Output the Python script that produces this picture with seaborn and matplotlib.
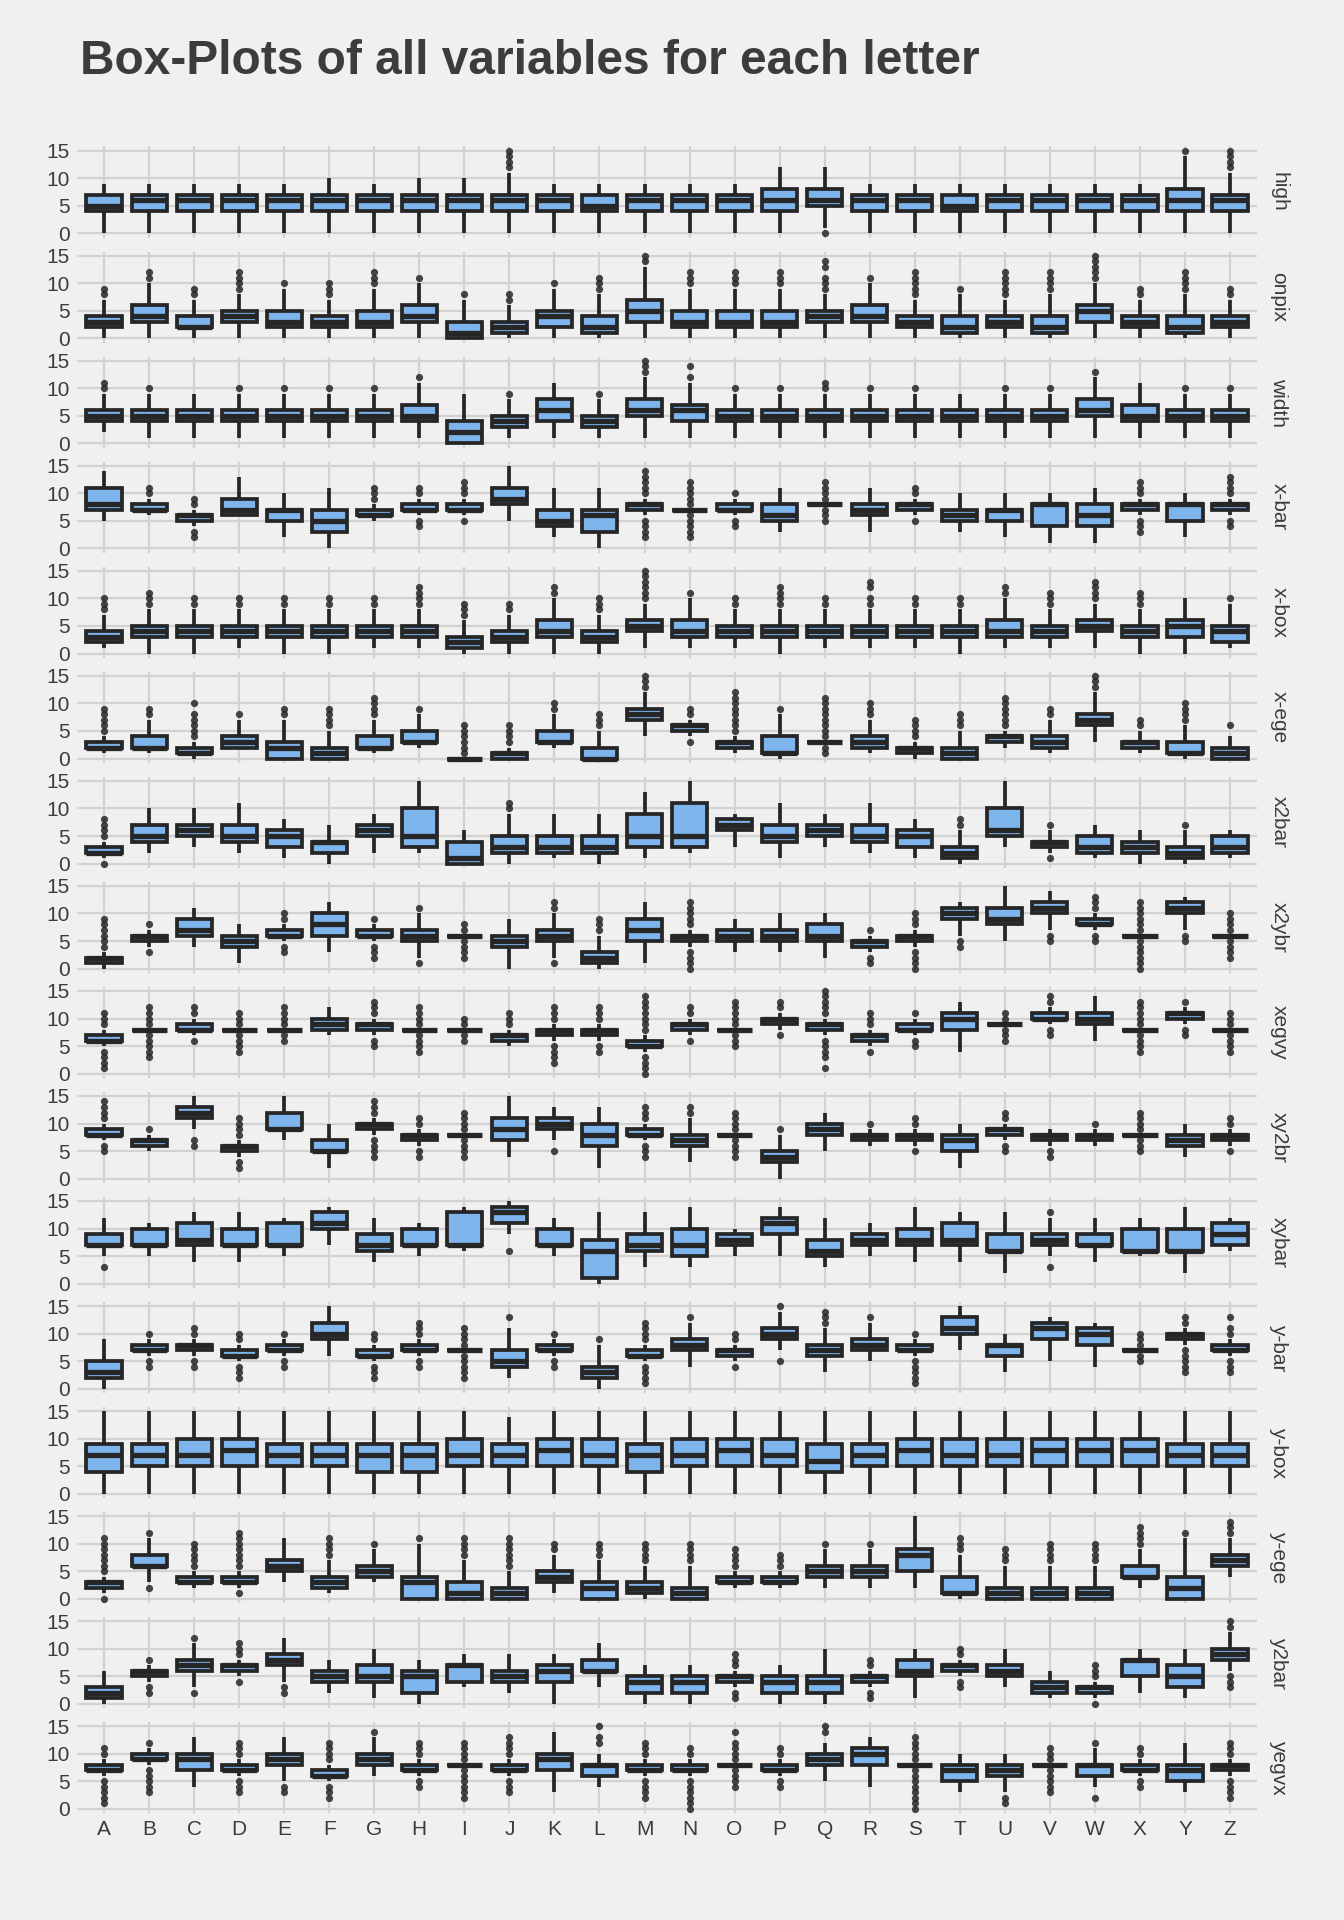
import numpy as np
import pandas as pd
import matplotlib
matplotlib.use("Agg")
import matplotlib.pyplot as plt
import seaborn as sns

letters = list("ABCDEFGHIJKLMNOPQRSTUVWXYZ")
variables = ["high", "onpix", "width", "x-bar", "x-box", "x-ege", "x2bar", "x2ybr",
             "xegvy", "xy2br", "xybar", "y-bar", "y-box", "y-ege", "y2bar", "yegvx"]

# (lower whisker, Q1, median, Q3, upper whisker) per letter A..Z
high_box = [(0,4,5,7,9),(0,4,6,7,9),(0,4,6,7,9),(0,4,6,7,9),(0,4,6,7,9),(0,4,6,7,10),(0,4,6,7,9),
            (0,4,6,7,10),(0,4,6,7,10),(0,4,6,7,11),(0,4,6,7,9),(0,4,5,7,9),(0,4,6,7,9),(0,4,6,7,9),
            (0,4,6,7,9),(0,4,6,8,12),(1,5,6,8,12),(0,4,6,7,9),(0,4,6,7,9),(0,4,5,7,9),(0,4,6,7,9),
            (0,4,6,7,9),(0,4,6,7,9),(0,4,6,7,9),(0,4,6,8,14),(0,4,6,7,11)]
high_out = [[],[],[],[],[],[],[],[],[],[12,13,14,15],[],[],[],[],[],[],[0],[],[],[],[],[],[],[],[15],[12,13,14,15]]

onpix_box = [(0,2,3,4,7),(0,3,4,6,10),(0,2,2,4,7),(0,3,4,5,8),(0,2,3,5,9),(0,2,3,4,7),(0,2,3,5,9),
             (0,3,4,6,10),(0,0,1,3,7),(0,1,2,3,6),(0,2,4,5,9),(0,1,2,4,8),(0,3,5,7,13),(0,2,3,5,9),
             (0,2,3,5,9),(0,2,3,5,9),(0,3,4,5,8),(0,3,4,6,10),(0,2,3,4,7),(0,1,2,4,8),(0,2,3,4,7),
             (0,1,2,4,8),(0,3,5,6,10),(0,2,3,4,7),(0,1,2,4,8),(0,2,3,4,7)]
onpix_out = [[8,9],[11,12],[8,9],[9,10,11,12],[10],[8,9,10],[10,11,12],[11],[8],[7,8],[10],[9,10,11],
             [14,15],[10,11,12],[10,11,12],[10,11,12],[9,10,11,13,14],[11],[8,9,10,11,12],[9],
             [8,9,10,11,12],[9,10,11,12],[11,12,13,14,15],[8,9],[9,10,11,12],[8,9]]

width_box = [(2,4,5,6,9),(1,4,5,6,9),(1,4,5,6,9),(1,4,5,6,9),(1,4,5,6,9),(1,4,5,6,9),(1,4,5,6,9),
             (1,4,5,7,11),(0,0,2,4,9),(1,3,4,5,8),(1,4,6,8,11),(1,3,4,5,8),(1,5,6,8,12),(1,4,6,7,11),
             (1,4,5,6,9),(1,4,5,6,9),(1,4,5,6,9),(1,4,5,6,9),(1,4,5,6,9),(1,4,5,6,9),(1,4,5,6,9),
             (1,4,5,6,9),(1,5,6,8,12),(1,4,5,7,11),(1,4,5,6,9),(1,4,5,6,9)]
width_out = [[10,11],[10],[],[10],[10],[10],[10],[12],[],[9],[],[9],[13,14,15],[12,14],[10],[10],
             [10,11],[10],[10],[],[10],[10],[13],[],[10],[10]]

x_bar_box = [(5,7,8,11,14),(6,7,7,8,9),(4,5,6,6,7),(6,6,7,9,13),(2,5,7,7,10),(0,3,5,7,11),(5,6,6,7,8),
             (6,7,7,8,9),(6,7,7,8,9),(5,8,9,11,15),(2,4,5,7,11),(0,3,6,7,11),(6,7,8,8,9),(7,7,7,7,7),
             (6,7,7,8,9),(3,5,6,8,11),(8,8,8,8,8),(3,6,7,8,11),(6,7,8,8,9),(3,5,6,7,10),(2,5,7,7,10),
             (1,4,8,8,10),(1,4,6,8,11),(6,7,8,8,9),(2,5,8,8,10),(6,7,8,8,9)]
x_bar_out = [[],[10,11],[2,3,8,9],[],[],[],[9,10,11],[4,5,10,11],[5,10,11,12],[],[],[],
             [2,3,4,5,10,11,12,13,14],[2,3,4,5,6,8,9,10,11,12],[4,5,10],[],[5,6,7,9,10,11,12],[],
             [5,10,11],[],[],[],[],[3,4,5,10,11,12],[],[4,5,10,11,12,13]]

x_box_box = [(1,2,3,4,7),(0,3,4,5,8),(0,3,4,5,8),(1,3,4,5,8),(0,3,4,5,8),(0,3,4,5,8),(1,3,4,5,8),
             (1,3,4,5,8),(0,1,2,3,6),(0,2,3,4,7),(0,3,4,6,10),(0,2,3,4,7),(1,4,5,6,9),(1,3,4,6,10),
             (1,3,4,5,8),(0,3,4,5,8),(1,3,4,5,8),(1,3,4,5,8),(1,3,4,5,8),(0,3,4,5,8),(1,3,4,6,10),
             (1,3,4,5,8),(1,4,5,6,9),(0,3,4,5,8),(0,3,5,6,10),(1,2,4,5,9)]
x_box_out = [[8,9,10],[9,10,11],[9,10],[9,10],[9,10],[9,10],[9,10],[9,10,11,12],[7,8,9],[8,9],[11,12],
             [8,9,10],[10,11,12,13,14,15],[11],[9,10],[9,10,11,12],[9,10],[9,10,12,13],[9,10],[9,10],
             [11,12],[9,10,11],[10,11,12,13],[9,10,11],[],[10]]

x_ege_box = [(1,2,2,3,4),(1,2,2,4,7),(0,1,1,2,3),(2,2,3,4,7),(0,0,2,3,7),(0,0,1,2,5),(1,2,2,4,7),
             (2,3,3,5,8),(0,0,0,0,0),(0,0,1,1,2),(2,3,3,5,8),(0,0,0,2,5),(4,7,8,9,12),(4,5,6,6,7),
             (1,2,3,3,4),(0,1,1,4,8),(3,3,3,3,3),(1,2,3,4,7),(0,1,2,2,3),(0,0,1,2,5),(2,3,4,4,5),
             (1,2,3,4,7),(3,6,7,8,12),(1,2,3,3,5),(0,1,1,3,6),(0,0,1,2,4)]
x_ege_out = [[5,6,7,8,9],[8,9],[4,5,6,7,8,10],[8],[8,9],[6,7,8,9],[8,9,10,11],[9],[1,2,3,4,5,6],
             [3,4,5,6],[9,10],[6,7,8],[13,14,15],[3,8,9],[5,6,7,8,9,10,11,12],[9],
             [1,2,4,5,6,7,8,9,10,11],[8,9,10],[4,5,6,7],[6,7,8],[6,7,8,9,10,11],[8,9],[13,14,15],
             [6,7],[7,8,9,10],[6]]

x2bar_box = [(1,2,2,3,4),(2,4,5,7,10),(3,5,6,7,10),(2,4,5,7,11),(1,3,5,6,8),(0,2,4,4,7),(2,5,6,7,9),
             (2,3,5,10,15),(0,0,1,4,6),(0,2,3,5,9),(1,2,3,5,9),(0,2,3,5,9),(1,3,5,9,13),(2,3,5,11,15),
             (3,6,7,8,9),(1,4,5,7,11),(3,5,6,7,9),(2,4,5,7,11),(1,3,5,6,8),(0,1,2,3,6),(3,5,6,10,15),
             (2,3,4,4,6),(1,2,3,5,7),(0,2,3,4,6),(0,1,2,3,6),(1,2,3,5,6)]
x2bar_out = [[0,5,6,7,8],[],[],[],[],[],[],[],[],[10,11],[],[],[],[],[],[],[],[],[],[7,8],[],[1,7],
             [],[],[7],[]]

x2ybr_box = [(0,1,2,2,3),(4,5,6,6,7),(4,6,7,9,11),(1,4,5,6,8),(5,6,6,7,8),(3,6,8,10,12),(5,6,6,7,8),
             (2,5,6,7,10),(6,6,6,6,6),(0,4,5,6,9),(2,5,6,7,10),(0,1,2,3,6),(1,5,7,9,12),(4,5,6,6,7),
             (3,5,6,7,9),(3,5,6,7,10),(2,5,6,8,10),(3,4,5,5,6),(4,5,6,6,7),(6,9,10,11,12),
             (5,8,9,11,15),(7,10,11,12,14),(7,8,8,9,10),(6,6,6,6,6),(7,10,11,12,13),(6,6,6,6,6)]
x2ybr_out = [[4,5,6,7,8,9],[3,8],[],[],[3,4,9,10],[],[2,3,4,9],[1,11],[2,3,4,5,7,8],[],[1,11,12],
             [7,8,9],[],[0,1,2,3,8,9,10,11,12],[],[],[],[1,2,7],[0,1,2,3,8,9,10],[4,5],[],[5,6],
             [5,6,11,12,13],[0,1,2,3,4,5,7,8,9,10,11,12],[5,6],[2,3,4,5,7,8,9,10]]

xegvy_box = [(5,6,6,7,8),(8,8,8,8,8),(7,8,8,9,10),(8,8,8,8,8),(8,8,8,8,8),(7,8,9,10,12),(7,8,9,9,10),
             (8,8,8,8,8),(8,8,8,8,8),(5,6,7,7,8),(6,7,8,8,9),(6,7,8,8,9),(4,5,5,6,7),(7,8,9,9,10),
             (8,8,8,8,8),(8,9,10,10,11),(7,8,9,9,10),(5,6,7,7,8),(7,8,8,9,10),(4,8,10,11,13),
             (9,9,9,9,9),(9,10,10,11,12),(6,9,10,11,14),(8,8,8,8,8),(9,10,11,11,12),(8,8,8,8,8)]
xegvy_out = [[1,2,3,4,9,10,11],[3,4,5,6,7,9,10,11,12],[6,11,12],[4,5,6,7,9,10,11],[6,7,9,10,11,12],
             [],[5,6,11,12,13],[4,5,6,7,9,10,11,12],[6,7,9,10],[9,10,11],[2,3,4,5,10,11,12],
             [4,5,10,11,12],[0,1,2,3,8,9,10,11,12,13,14],[6,11,12],[5,6,7,9,10,11,12,13],[7,12,13],
             [1,3,4,5,6,11,12,13,14,15],[4,9,10,11],[5,6,11],[],[6,7,8,10,11],[7,8,13,14],[],
             [4,5,6,7,9,10,11,12,13],[7,8,13],[4,5,6,7,9,10,11]]

xy2br_box = [(7,8,8,9,10),(5,6,7,7,8),(9,11,12,13,15),(4,5,6,6,7),(7,9,9,12,15),(2,5,5,7,10),
             (8,9,10,10,11),(6,7,8,8,9),(8,8,8,8,8),(4,7,9,11,15),(7,9,10,11,13),(2,6,8,10,13),
             (7,8,8,9,10),(3,6,7,8,11),(8,8,8,8,8),(0,3,4,5,8),(5,8,9,10,12),(6,7,8,8,9),(6,7,8,8,9),
             (2,5,7,8,10),(7,8,9,9,10),(6,7,8,8,9),(6,7,8,8,9),(8,8,8,8,8),(4,6,7,8,10),(6,7,8,8,9)]
xy2br_out = [[5,6,11,12,13,14],[9],[6,7],[2,3,8,9,10,11],[],[],[4,5,6,7,12,13,14],[4,5,10,11],
             [4,5,6,7,9,10,11,12],[],[5],[],[4,5,6,11,12,13],[12,13],[4,5,6,7,9,10,11,12],[9],[],
             [10],[5,10,11],[],[5,6,11,12],[4,5],[10],[5,6,7,9,10,11,12],[],[5,10,11]]

xybar_box = [(5,7,7,9,12),(5,7,7,10,11),(4,7,8,11,13),(4,7,7,10,13),(5,7,7,11,12),(7,10,11,13,14),
             (4,6,7,9,12),(5,7,7,10,11),(6,7,7,13,14),(9,11,13,14,15),(5,7,7,10,12),(0,1,6,8,13),
             (3,6,7,9,13),(3,5,7,10,14),(5,7,8,9,10),(5,9,11,12,14),(3,5,6,8,12),(5,7,8,9,11),
             (4,7,8,10,14),(4,7,8,11,13),(2,6,6,9,13),(5,7,8,9,12),(4,7,7,9,12),(5,6,6,10,12),
             (2,6,6,10,14),(6,7,9,11,12)]
xybar_out = [[3],[],[],[],[],[],[],[],[],[6],[],[],[],[],[],[],[],[],[],[],[],[3,13],[],[],[],[]]

y_bar_box = [(0,2,3,5,9),(6,7,7,8,9),(6,7,8,8,9),(5,6,6,7,8),(6,7,7,8,9),(6,9,10,12,15),(5,6,6,7,8),
             (6,7,7,8,9),(7,7,7,7,7),(2,4,5,7,11),(6,7,7,8,9),(0,2,3,4,8),(5,6,6,7,8),(4,7,8,9,12),
             (5,6,7,7,8),(7,9,10,11,14),(3,6,7,8,11),(5,7,8,9,12),(6,7,7,8,9),(7,10,11,13,15),
             (3,6,8,8,10),(5,9,11,12,13),(4,8,10,11,12),(7,7,7,7,7),(8,9,10,10,11),(6,7,7,8,9)]
y_bar_out = [[],[4,5,10],[4,5,10,11],[2,3,4,9,10],[4,5,10],[],[2,3,4,9,10],[4,5,10,11,12],
             [2,3,4,5,6,8,9,10,11],[13],[4,5,10],[9],[1,2,3,4,9,10,11,12],[13],[4,9,10],[5,15],
             [12,13,14],[13],[1,2,3,4,5,10],[],[],[],[],[5,6,8,9,10],[3,4,5,6,7,12,13],[3,4,5,10,11,13]]

y_box_box = [(0,4,7,9,15),(0,5,7,9,15),(0,5,7,10,15),(0,5,8,10,15),(0,5,7,9,15),(0,5,7,9,15),
             (0,4,7,9,15),(0,4,7,9,15),(0,5,7,10,15),(0,5,7,9,14),(0,5,8,10,15),(0,5,7,10,15),
             (0,4,7,9,15),(0,5,7,10,15),(0,5,8,10,15),(0,5,7,10,15),(0,4,6,9,15),(0,5,7,9,15),
             (0,5,8,10,15),(0,5,7,10,15),(0,5,7,10,15),(0,5,8,10,15),(0,5,8,10,15),(0,5,8,10,15),
             (0,5,7,9,15),(0,5,7,9,15)]
y_box_out = [[] for _ in range(26)]

y_ege_box = [(1,2,3,3,4),(3,6,6,8,11),(2,3,3,4,5),(2,3,3,4,5),(3,5,6,7,11),(1,2,3,4,7),(3,4,5,6,9),
             (0,0,3,4,10),(0,0,1,3,7),(0,0,1,2,5),(1,3,4,5,8),(0,0,2,3,7),(0,1,2,3,6),(0,0,1,2,6),
             (2,3,3,4,5),(2,3,3,4,5),(2,4,5,6,9),(2,4,5,6,9),(2,5,8,9,15),(0,1,1,4,8),(0,0,1,2,6),
             (0,0,1,2,6),(0,0,1,2,6),(2,4,4,6,9),(0,0,2,4,11),(4,6,7,8,11)]
y_ege_out = [[0,5,6,7,8,9,10,11],[2,12],[6,7,8,9,10],[1,6,7,8,9,10,11,12],[],[8,9,10,11],[10],[11],
             [8,9,10,11],[6,7,8,9,10,11],[9,10],[8,9,10],[7,8,9,10],[7,8,9,10],[6,7,8,9],[6,7,8],
             [10],[10],[],[9,10,11],[7,8,9],[7,8,9,10],[7,8,9,10],[10,11,12,13],[12],[12,13,14]]

y2bar_box = [(0,1,2,3,6),(4,5,6,6,7),(3,6,7,8,11),(5,6,7,7,8),(4,7,8,9,12),(2,4,5,6,8),(1,4,5,7,10),
             (0,2,5,6,8),(3,4,7,7,9),(2,4,5,6,9),(0,4,6,7,9),(3,6,6,8,11),(0,2,4,5,7),(0,2,4,5,7),
             (3,4,5,5,6),(0,2,4,5,7),(0,2,4,5,10),(3,4,5,5,6),(1,5,6,8,10),(5,6,7,7,8),(3,5,6,7,10),
             (1,2,3,4,6),(1,2,3,3,4),(2,5,8,8,10),(1,3,5,7,10),(6,8,9,10,13)]
y2bar_out = [[],[2,3,8],[2,12],[4,9,10,11],[2,3],[],[],[],[],[],[],[],[],[],[1,2,7,8,9],[],[],
             [1,2,7,8],[],[3,4,9,10],[],[],[0,5,6,7],[],[],[3,4,5,14,15]]

yegvx_box = [(6,7,7,8,9),(8,9,9,10,11),(4,7,9,10,13),(6,7,7,8,9),(5,8,9,10,13),(5,6,6,7,8),
             (6,8,9,10,13),(6,7,7,8,9),(8,8,8,8,8),(6,7,7,8,9),(3,7,9,10,14),(4,6,8,8,10),
             (6,7,7,8,9),(6,7,7,8,9),(8,8,8,8,8),(6,7,7,8,9),(5,8,9,10,12),(4,8,10,11,13),
             (8,8,8,8,8),(3,5,7,8,10),(3,6,7,8,10),(8,8,8,8,8),(4,6,8,8,11),(6,7,7,8,9),
             (3,5,7,8,12),(6,7,8,8,9)]
yegvx_out = [[1,2,3,4,5,10,11],[3,4,5,6,7,12],[],[3,4,5,10,11,12],[3,4],[2,3,4,9,10,11,12],[14],
             [4,5,10,11,12],[2,3,4,5,6,7,9,10,11,12],[3,4,5,10,11,12,13],[],[12,13,15],
             [2,3,4,5,10,11,12],[0,1,2,3,4,5,10,11],[4,5,6,7,9,10,11,12,14],[4,5,10,11],[14,15],[],
             [0,1,2,3,4,5,6,7,9,10,11,12,13],[],[1,2],[3,4,5,6,7,9,10,11],[2,12],[4,5,10,11],[],
             [2,3,4,5,10,11,12]]

box_stats = {"high": high_box, "onpix": onpix_box, "width": width_box, "x-bar": x_bar_box,
             "x-box": x_box_box, "x-ege": x_ege_box, "x2bar": x2bar_box, "x2ybr": x2ybr_box,
             "xegvy": xegvy_box, "xy2br": xy2br_box, "xybar": xybar_box, "y-bar": y_bar_box,
             "y-box": y_box_box, "y-ege": y_ege_box, "y2bar": y2bar_box, "yegvx": yegvx_box}
outliers = {"high": high_out, "onpix": onpix_out, "width": width_out, "x-bar": x_bar_out,
            "x-box": x_box_out, "x-ege": x_ege_out, "x2bar": x2bar_out, "x2ybr": x2ybr_out,
            "xegvy": xegvy_out, "xy2br": xy2br_out, "xybar": xybar_out, "y-bar": y_bar_out,
            "y-box": y_box_out, "y-ege": y_ege_out, "y2bar": y2bar_out, "yegvx": yegvx_out}


def core_frame(stats):
    # sample whose min / quartiles / max equal the five read statistics
    rows = []
    for L, (lo, q1, md, q3, hi) in zip(letters, stats):
        vals = [lo] + [q1] * 20 + [md] * 20 + [q3] * 20 + [hi]
        rows += [(L, v) for v in vals]
    return pd.DataFrame(rows, columns=["letter", "value"])


def outlier_frame(outs):
    rows = [(L, v) for L, vs in zip(letters, outs) for v in vs]
    return pd.DataFrame(rows, columns=["letter", "value"])


sns.set_theme(style="whitegrid")
plt.rcParams["font.family"] = ["Liberation Sans", "DejaVu Sans"]

BG = "#F0F0F0"
GRID = "#D2D2D2"
TXT = "#3C3C3C"
FILL = "#7DB4EC"
LINE = "#262626"

fig, axes = plt.subplots(16, 1, figsize=(13.44, 19.2), dpi=100, sharex=True)
fig.patch.set_facecolor(BG)
fig.subplots_adjust(left=0.0573, right=0.9353, top=0.9237, bottom=0.0557, hspace=0.154)

for ax, var in zip(axes, variables):
    ax.set_facecolor(BG)
    sns.boxplot(data=core_frame(box_stats[var]), x="letter", y="value", order=letters,
                whis=(0, 100), showfliers=False, showcaps=False, color=FILL, saturation=1,
                linecolor=LINE, linewidth=2.7, width=0.78,
                medianprops={"linewidth": 3.8, "color": LINE}, ax=ax)
    of = outlier_frame(outliers[var])
    if len(of):
        sns.stripplot(data=of, x="letter", y="value", order=letters, jitter=False,
                      color=LINE, size=5.2, alpha=0.85, linewidth=0, ax=ax)
    ax.set_xlim(-0.6, 25.6)
    ax.set_ylim(-0.75, 15.75)
    ax.set_yticks([0, 5, 10, 15])
    ax.grid(True, color=GRID, linewidth=1.6)
    ax.set_axisbelow(True)
    for s in ax.spines.values():
        s.set_visible(False)
    ax.tick_params(length=0, labelsize=15, labelcolor=TXT, pad=5)
    ax.set_xlabel("")
    ax.set_ylabel("")
    pos = ax.get_position()
    fig.text(1279 / 1344, (pos.y0 + pos.y1) / 2, var, rotation=270, ha="center", va="center",
             fontsize=15, color=TXT)

fig.text(80 / 1344, 1 - 74 / 1920, "Box-Plots of all variables for each letter",
         fontsize=34.5, fontweight="bold", color=TXT, ha="left", va="baseline")

fig.savefig("out.png", dpi=100, facecolor=BG)
